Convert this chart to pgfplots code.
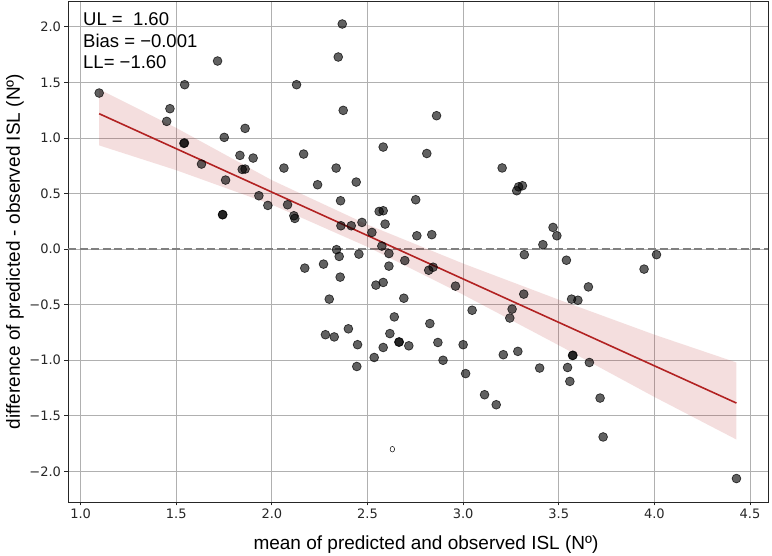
\documentclass[border=0pt]{standalone}
\usepackage{fontspec}
\setmainfont{Liberation Sans}
\newfontfamily\tickfont{DejaVu Sans}
\usepackage{pgfplots}
\pgfplotsset{compat=1.18}
\definecolor{regline}{RGB}{178,34,34}
\definecolor{gridgray}{RGB}{176,176,176}
\definecolor{zeroline}{RGB}{128,128,128}

\begin{document}
\begin{tikzpicture}
\path[use as bounding box] (0,0) rectangle (772pt,556pt);
\begin{axis}[
  at={(68pt,54pt)}, anchor=south west,
  scale only axis, width=700pt, height=501pt,
  xmin=0.934, xmax=4.594, ymin=-2.275, ymax=2.232,
  xtick={1,1.5,2,2.5,3,3.5,4,4.5},
  xticklabels={1.0,1.5,2.0,2.5,3.0,3.5,4.0,4.5},
  ytick={-2,-1.5,-1,-0.5,0,0.5,1,1.5,2},
  yticklabels={−2.0,−1.5,−1.0,−0.5,0.0,0.5,1.0,1.5,2.0},
  tick label style={font=\tickfont\fontsize{13}{15}\selectfont, text=black!85},
  grid=major, grid style={gridgray, line width=0.8pt},
  axis line style={black!85, line width=0.9pt},
  tick align=outside, xtick pos=left, ytick pos=left,
  major tick length=3.5pt, tick style={black!85, line width=0.8pt},
  xlabel={mean of predicted and observed ISL (Nº)},
  ylabel={difference of predicted - observed ISL (Nº)},
  label style={font=\fontsize{19}{22}\selectfont},
  xlabel style={at={(axis description cs:0.5114,-0.0858)}, anchor=center},
  ylabel style={at={(axis description cs:-0.0757,0.5)}, anchor=center},
  clip=false,
]

% zero reference line
\addplot[zeroline, line width=1.3pt, dash pattern=on 8pt off 3.6pt] coordinates {(0.934,0) (4.594,0)};

% paired observations
\addplot[only marks, mark=*, mark size=4.4pt,
  mark options={fill=black, fill opacity=0.62, draw=black, draw opacity=0.72, line width=0.7pt}]
coordinates {
(1.097,1.404) (1.450,1.149) (1.467,1.263) (1.544,1.479) (1.540,0.951) (1.543,0.955)
(1.632,0.765) (1.716,1.692) (1.751,1.005) (1.758,0.621) (1.742,0.309) (1.743,0.311)
(1.833,0.843) (1.845,0.717) (1.860,0.720) (1.860,1.086) (1.902,0.819) (1.932,0.480)
(1.979,0.393) (2.063,0.729) (2.082,0.399) (2.115,0.300) (2.120,0.276) (2.129,1.479)
(2.166,0.855) (2.172,-0.171) (2.239,0.579) (2.270,-0.135) (2.280,-0.770) (2.300,-0.450)
(2.326,-0.790) (2.336,0.729) (2.338,-0.005) (2.347,1.728) (2.352,-0.066) (2.357,-0.252)
(2.359,0.435) (2.361,0.210) (2.368,2.025) (2.373,1.248) (2.400,-0.717) (2.415,0.210)
(2.441,0.603) (2.444,-1.056) (2.448,-0.860) (2.455,-0.045) (2.471,0.240) (2.523,0.150)
(2.535,-0.975) (2.544,-0.324) (2.561,0.339) (2.575,0.027) (2.582,0.345) (2.582,0.918)
(2.582,-0.300) (2.582,-0.885) (2.592,0.225) (2.612,-0.040) (2.612,-0.153) (2.617,-0.760)
(2.640,-0.610) (2.664,-0.837) (2.666,-0.835) (2.695,-0.103) (2.690,-0.442) (2.716,-0.870)
(2.752,0.444) (2.758,0.120) (2.810,0.860) (2.820,-0.190) (2.843,-0.163) (2.826,-0.670)
(2.836,0.130) (2.861,1.200) (2.868,-0.840) (2.895,-1.000) (2.960,-0.333) (3.000,-0.860)
(3.013,-1.120) (3.047,-0.550) (3.112,-1.310) (3.173,-1.400) (3.204,0.730) (3.210,-0.950)
(3.244,-0.620) (3.256,-0.540) (3.280,0.525) (3.290,0.560) (3.310,0.570) (3.286,-0.920)
(3.317,-0.405) (3.320,-0.050) (3.400,-1.070) (3.417,0.040) (3.470,0.195) (3.490,0.120)
(3.540,-0.100) (3.546,-1.065) (3.558,-1.190) (3.567,-0.450) (3.600,-0.460) (3.572,-0.957)
(3.574,-0.955) (3.655,-0.340) (3.660,-1.020) (3.716,-1.340) (3.732,-1.690) (3.946,-0.180)
(4.011,-0.050) (4.429,-2.064)
};

% stray open marker
\addplot[only marks, mark=o, mark size=2.8pt,
  mark options={black, line width=0.5pt, xscale=0.8}] coordinates {(2.630,-1.800)};

% confidence band of the fit
\addplot[fill=regline, fill opacity=0.15, draw=none] coordinates {
(1.097,1.438) (1.5,1.090) (2.0,0.620) (2.5,0.220) (3.0,-0.130) (3.5,-0.455) (4.0,-0.770) (4.429,-1.020)
(4.429,-1.713) (4.0,-1.330) (3.5,-0.865) (3.0,-0.410) (2.5,0.020) (2.0,0.400) (1.5,0.710) (1.097,0.933)
};

% fitted regression line
\addplot[regline, line width=1.6pt] coordinates {(1.097,1.218) (4.429,-1.385)};

\node[anchor=base west, inner sep=0, font=\fontsize{18.5}{21}\selectfont, xshift=15pt, yshift=-25pt] at (rel axis cs:0,1) {UL =\ \ 1.60};
\node[anchor=base west, inner sep=0, font=\fontsize{18.5}{21}\selectfont, xshift=15pt, yshift=-46.5pt] at (rel axis cs:0,1) {Bias = −0.001};
\node[anchor=base west, inner sep=0, font=\fontsize{18.5}{21}\selectfont, xshift=15pt, yshift=-68pt] at (rel axis cs:0,1) {LL= −1.60};
\end{axis}
\end{tikzpicture}
\end{document}
